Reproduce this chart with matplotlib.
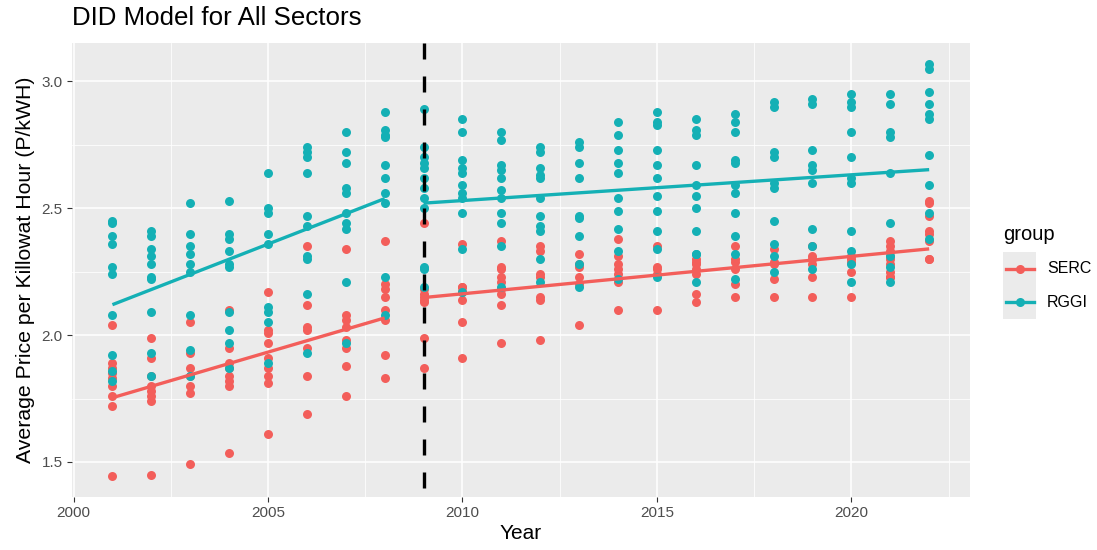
import numpy as np
import matplotlib
matplotlib.use("Agg")
import matplotlib.pyplot as plt
from matplotlib.lines import Line2D
from matplotlib.patches import Rectangle

plt.rcParams['font.family'] = ['Liberation Sans', 'DejaVu Sans']

years = list(range(2001, 2023))
treatment_year = 2009
group_names = ["SERC", "RGGI"]
group_colors = {"SERC": "#F35E5A", "RGGI": "#14B0B5"}

# Average price per kWh, one list per year (2001 ... 2022)
serc_prices = [
    [2.04, 1.89, 1.87, 1.85, 1.83, 1.80, 1.76, 1.72, 1.445],
    [1.99, 1.91, 1.84, 1.80, 1.78, 1.76, 1.74, 1.45],
    [2.05, 1.93, 1.87, 1.84, 1.80, 1.77, 1.49],
    [2.10, 1.95, 1.89, 1.87, 1.84, 1.82, 1.80, 1.535],
    [2.17, 2.02, 2.01, 1.97, 1.91, 1.87, 1.84, 1.81, 1.61],
    [2.35, 2.12, 2.03, 2.02, 1.95, 1.84, 1.69],
    [2.34, 2.08, 2.06, 2.03, 1.98, 1.95, 1.88, 1.76],
    [2.37, 2.20, 2.18, 2.15, 2.10, 2.06, 1.92, 1.83],
    [2.44, 2.18, 2.16, 2.15, 2.14, 2.13, 1.99, 1.87],
    [2.36, 2.19, 2.19, 2.17, 2.17, 2.14, 2.05, 1.91],
    [2.37, 2.27, 2.26, 2.23, 2.21, 2.18, 2.16, 2.12, 1.97],
    [2.35, 2.33, 2.24, 2.23, 2.15, 2.14, 1.98],
    [2.32, 2.28, 2.27, 2.23, 2.20, 2.04],
    [2.38, 2.31, 2.28, 2.26, 2.24, 2.21, 2.10],
    [2.35, 2.27, 2.26, 2.24, 2.10],
    [2.30, 2.29, 2.28, 2.26, 2.24, 2.16, 2.13],
    [2.35, 2.30, 2.29, 2.26, 2.20, 2.15],
    [2.34, 2.29, 2.28, 2.22, 2.15],
    [2.35, 2.31, 2.30, 2.28, 2.23, 2.15],
    [2.31, 2.30, 2.29, 2.25, 2.15],
    [2.37, 2.35, 2.33, 2.31, 2.30, 2.28, 2.25, 2.23, 2.23],
    [2.53, 2.52, 2.47, 2.41, 2.40, 2.37, 2.30, 2.30],
]

rggi_prices = [
    [2.45, 2.44, 2.39, 2.36, 2.27, 2.24, 2.08, 1.92, 1.86, 1.82],
    [2.41, 2.39, 2.34, 2.31, 2.28, 2.23, 2.22, 2.09, 1.93, 1.84],
    [2.52, 2.40, 2.35, 2.32, 2.28, 2.25, 2.08, 1.94, 1.84],
    [2.53, 2.40, 2.38, 2.33, 2.28, 2.27, 2.09, 2.02, 1.97, 1.87],
    [2.64, 2.50, 2.48, 2.40, 2.36, 2.11, 2.09, 2.05, 1.89],
    [2.74, 2.72, 2.70, 2.64, 2.47, 2.43, 2.31, 2.30, 2.16, 1.93],
    [2.80, 2.72, 2.68, 2.58, 2.56, 2.48, 2.44, 2.42, 2.21, 1.97],
    [2.88, 2.81, 2.79, 2.78, 2.67, 2.62, 2.56, 2.52, 2.23, 2.08],
    [2.89, 2.74, 2.70, 2.68, 2.66, 2.62, 2.58, 2.54, 2.50, 2.27, 2.26, 2.19],
    [2.85, 2.80, 2.69, 2.66, 2.64, 2.59, 2.56, 2.54, 2.48, 2.34, 2.17],
    [2.80, 2.77, 2.67, 2.65, 2.62, 2.57, 2.54, 2.48, 2.44, 2.35, 2.19],
    [2.74, 2.72, 2.66, 2.63, 2.62, 2.54, 2.47, 2.43, 2.41, 2.30, 2.21],
    [2.76, 2.74, 2.68, 2.62, 2.47, 2.46, 2.39, 2.28, 2.19],
    [2.84, 2.79, 2.73, 2.68, 2.64, 2.54, 2.49, 2.42, 2.33, 2.22],
    [2.88, 2.84, 2.83, 2.73, 2.67, 2.62, 2.55, 2.49, 2.41, 2.34, 2.23],
    [2.85, 2.81, 2.79, 2.67, 2.59, 2.55, 2.50, 2.41, 2.32, 2.32, 2.21],
    [2.87, 2.84, 2.80, 2.69, 2.68, 2.59, 2.56, 2.48, 2.39, 2.32, 2.22],
    [2.92, 2.90, 2.72, 2.70, 2.60, 2.58, 2.45, 2.36, 2.31, 2.25],
    [2.93, 2.91, 2.73, 2.67, 2.65, 2.60, 2.42, 2.35, 2.26],
    [2.95, 2.92, 2.90, 2.80, 2.70, 2.62, 2.60, 2.41, 2.33, 2.28, 2.21],
    [2.95, 2.91, 2.80, 2.78, 2.64, 2.44, 2.31, 2.27, 2.21],
    [3.07, 3.05, 2.96, 2.91, 2.87, 2.85, 2.71, 2.59, 2.48, 2.38],
]

group_prices = {"SERC": serc_prices, "RGGI": rggi_prices}


def flatten(per_year):
    xs, ys = [], []
    for yr, vals in zip(years, per_year):
        xs.extend([yr] * len(vals))
        ys.extend(vals)
    return np.array(xs, float), np.array(ys, float)


W, H = 1097, 550
fig = plt.figure(figsize=(W / 100, H / 100), dpi=100)
fig.patch.set_facecolor("white")

panel_l, panel_r, panel_t, panel_b = 71.6, 970, 43, 496.5
ax = fig.add_axes([panel_l / W, 1 - panel_b / H,
                   (panel_r - panel_l) / W, (panel_b - panel_t) / H])
ax.set_facecolor("#EBEBEB")
for s in ax.spines.values():
    s.set_visible(False)

all_y = []
for g in group_names:
    x, y = flatten(group_prices[g])
    all_y.append(y)
    ax.scatter(x, y, s=42, color=group_colors[g], linewidths=0, zorder=3)
all_y = np.concatenate(all_y)

# linear fits before and after the policy year, per group
for g in group_names:
    x, y = flatten(group_prices[g])
    for mask in (x < treatment_year, x >= treatment_year):
        xx, yy = x[mask], y[mask]
        b1, b0 = np.polyfit(xx, yy, 1)
        xl = np.array([xx.min(), xx.max()])
        ax.plot(xl, b0 + b1 * xl, color=group_colors[g], lw=2.4,
                solid_capstyle="butt", zorder=4)

xr = years[-1] - years[0]
ax.set_xlim(years[0] - 0.05 * xr, years[-1] + 0.05 * xr)
yr_ = all_y.max() - all_y.min()
y_lo, y_hi = all_y.min() - 0.05 * yr_, all_y.max() + 0.05 * yr_
ax.set_ylim(y_lo, y_hi)

# policy start marker, dashes laid out from the top of the panel
vline, = ax.plot([treatment_year, treatment_year], [y_hi, y_lo],
                 color="black", lw=2.4, zorder=5)
vline.set_dashes((4.8, 5.1))

ax.set_xticks([2000, 2005, 2010, 2015, 2020])
ax.set_xticks([2002.5, 2007.5, 2012.5, 2017.5, 2022.5], minor=True)
ax.set_yticks([1.5, 2.0, 2.5, 3.0])
ax.set_yticklabels(["1.5", "2.0", "2.5", "3.0"])
ax.set_yticks([1.75, 2.25, 2.75], minor=True)
ax.grid(which="major", color="white", lw=1.1, zorder=0)
ax.grid(which="minor", color="white", lw=0.55, zorder=0)
ax.set_axisbelow(True)
ax.tick_params(which="major", length=3.5, width=0.8, color="#333333",
               labelsize=11, labelcolor="#4D4D4D", pad=3)
ax.tick_params(which="minor", length=0)

ax.set_xlabel("Year", fontsize=15, color="black", labelpad=3)
ax.set_ylabel("Average Price per Killowat Hour (P/kWH)", fontsize=15.3,
              color="black", labelpad=5)
fig.text(panel_l / W, 1 - 18 / H, "DID Model for All Sectors",
         fontsize=18.6, ha="left", va="center")

# legend
fig.text(1003 / W, 1 - 234 / H, "group", fontsize=14.5, ha="left",
         va="center")
key_w, key_h = 33, 33.5
for i, g in enumerate(group_names):
    top = 252 + i * key_h
    fig.patches.append(Rectangle((1003 / W, 1 - (top + key_h) / H),
                                 key_w / W, key_h / H,
                                 transform=fig.transFigure,
                                 facecolor="#EBEBEB", edgecolor="none"))
    cy = 1 - (top + key_h / 2) / H
    fig.lines.append(Line2D([1005.5 / W, 1033.5 / W], [cy, cy],
                            transform=fig.transFigure,
                            color=group_colors[g], lw=2.4))
    fig.lines.append(Line2D([1019.5 / W], [cy], transform=fig.transFigure,
                            color=group_colors[g], marker="o",
                            markersize=6.5, markeredgewidth=0))
    fig.text(1047 / W, cy, g, fontsize=11.5, ha="left", va="center")

fig.savefig("out.png", dpi=100)
